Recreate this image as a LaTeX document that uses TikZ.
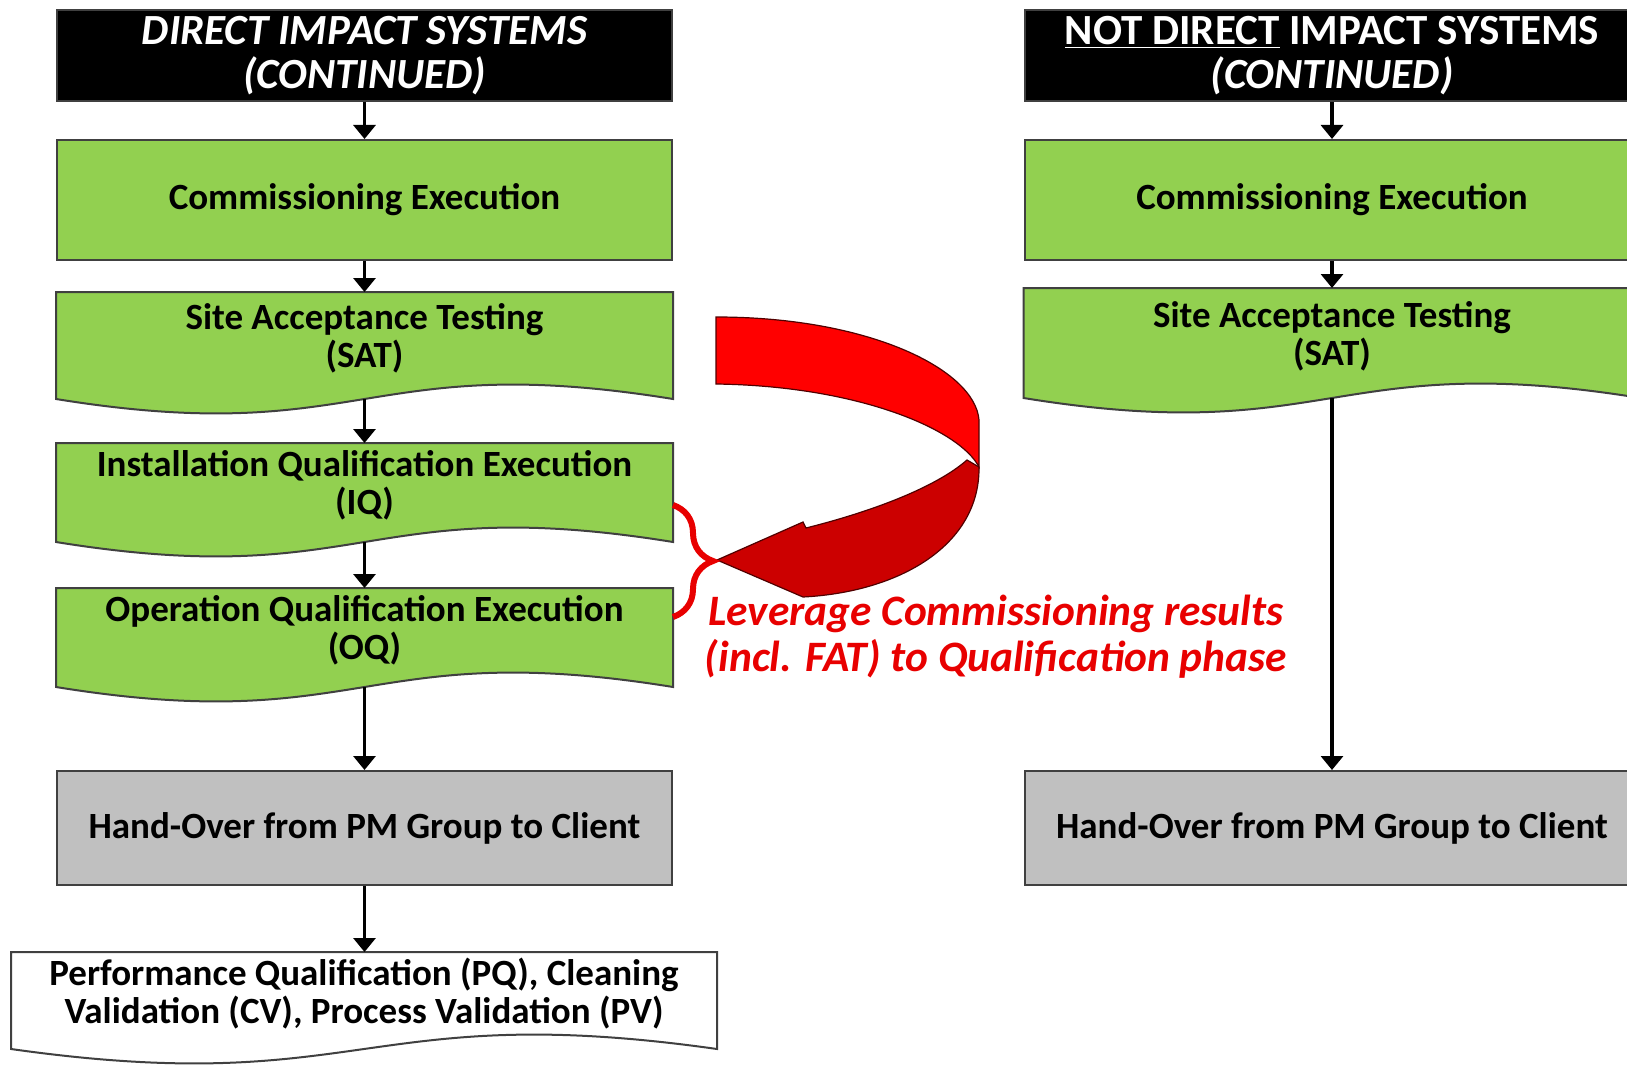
\documentclass[tikz,border=0pt]{standalone}
\usepackage{fontspec}
\setmainfont{Carlito}
\usetikzlibrary{arrows.meta, backgrounds, decorations.pathreplacing}

\definecolor{stagegreen}{HTML}{92D050}
\definecolor{handgray}{HTML}{C0C0C0}
\definecolor{boxline}{HTML}{404040}
\definecolor{ribbonred}{HTML}{FF0000}
\definecolor{ribbondark}{HTML}{CC0000}
\definecolor{ribbonline}{HTML}{500000}
\definecolor{notered}{HTML}{E80000}

\begin{document}
\begin{tikzpicture}[x=0.5pt, y=-0.5pt,
    box/.style={draw=boxline, line width=1pt, minimum width=307.5pt, inner sep=0pt,
        align=center, font=\bfseries\fontsize{18.5}{19.2}\selectfont},
    header/.style={box, fill=black, text=white, minimum height=45.5pt,
        font=\bfseries\fontsize{21.5}{22.3}\selectfont},
    stage/.style={box, fill=stagegreen, minimum height=60pt},
    wavestage/.style={box, draw=none},
    handover/.style={box, fill=handgray, minimum height=57pt},
    flow/.style={-{Triangle[width=11pt,length=7pt]}, line width=1.6pt}]
    \useasboundingbox (0,0) rectangle (1627,1065);
    % Direct impact column
    \node[header, font=\bfseries\itshape\fontsize{21.5}{22.3}\selectfont] (hdrL) at (364.5,55.5)
        {DIRECT IMPACT SYSTEMS\\(CONTINUED)};
    \node[stage] (comL) at (364.5,200) {Commissioning Execution};
    \node[wavestage, minimum height=45.5pt] (satL) at (364.5,338.5)
        {Site Acceptance Testing\\(SAT)};
    \node[wavestage, minimum height=41.5pt] (iqL) at (364.5,485.5)
        {Installation Qualification Execution\\(IQ)};
    \node[wavestage, minimum height=41.5pt] (oqL) at (364.5,630.5)
        {Operation Qualification Execution\\(OQ)};
    \node[handover] (hoL) at (364.5,828) {Hand-Over from PM Group to Client};
    \node[wavestage, minimum width=352pt, minimum height=40.5pt] (pq) at (364,993.5)
        {Performance Qualification (PQ), Cleaning\\Validation (CV), Process Validation (PV)};
    % Not direct impact column
    \node[header] (hdrR) at (1332,55.5)
        {\underline{NOT DIRECT} IMPACT SYSTEMS\\\textit{(CONTINUED)}};
    \node[stage] (comR) at (1332,200) {Commissioning Execution};
    \node[wavestage, minimum height=47pt] (satR) at (1332,336)
        {Site Acceptance Testing\\(SAT)};
    \node[handover] (hoR) at (1332,828) {Hand-Over from PM Group to Client};
    % Wavy document shapes
    \begin{scope}[on background layer]
        \foreach \n/\c in {satL/stagegreen, iqL/stagegreen, oqL/stagegreen, satR/stagegreen, pq/white}
            \draw[draw=boxline, line width=1pt, fill=\c]
                (\n.north west) -- (\n.north east) -- ([yshift=-7pt]\n.south east)
                .. controls ([yshift=18pt]\n.south) and ([yshift=-32pt]\n.south)
                .. ([yshift=-7pt]\n.south west) -- cycle;
    \end{scope}
    % Flow arrows
    \draw[flow] (hdrL) -- (comL);
    \draw[flow] (comL) -- (satL);
    \draw[flow] ([yshift=-7pt]satL.south) -- (iqL.north);
    \draw[flow] ([yshift=-7pt]iqL.south) -- (oqL.north);
    \draw[flow] ([yshift=-7pt]oqL.south) -- (hoL.north);
    \draw[flow] (hoL.south) -- (hoL.south |- pq.north);
    \draw[flow] (hdrR) -- (comR);
    \draw[flow] (comR) -- (satR);
    \draw[flow] ([yshift=-7pt]satR.south) -- (hoR.north);
    % Curved ribbon arrow
    \draw[fill=ribbonred, draw=ribbonline, line width=0.6pt]
        (716,317) .. controls (870,317) and (975,370) .. (979,420) -- (979,467)
        .. controls (960,430) and (860,386) .. (716,384) -- cycle;
    \draw[fill=ribbondark, draw=ribbonline, line width=0.6pt]
        (979,467) .. controls (980,545) and (900,592) .. (803,597)
        -- (717,560) -- (803,522) -- (806,528)
        .. controls (870,512) and (935,488) .. (967,460) -- cycle;
    % Brace and note
    \coordinate (braceTop) at (673,505);
    \coordinate (braceBot) at (673,617);
    \draw[notered, line width=3pt, decorate, decoration={brace, amplitude=20pt}]
        (braceTop) -- (braceBot);
    \node[text=notered, align=center, font=\bfseries\itshape\fontsize{21.7}{23}\selectfont]
        (note) at (996,637) {Leverage Commissioning results\\(incl. FAT) to Qualification phase};
\end{tikzpicture}
\end{document}
